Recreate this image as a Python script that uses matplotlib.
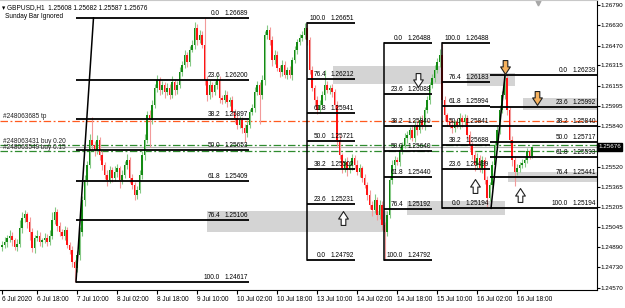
import numpy as np
import matplotlib
matplotlib.use("Agg")
import matplotlib.pyplot as plt
from matplotlib.path import Path
from matplotlib.patches import Rectangle

plt.rcParams['font.family'] = ['Liberation Sans', 'DejaVu Sans']
plt.rcParams['font.size'] = 4.7

# GBPUSD H1, bar index 0 = 6 Jul 2020 00:00 (Sunday bar ignored, 24 bars a day)
first_bar = 4
first_open = 1.24890
closes = [
    1.24906, 1.24929, 1.24961, 1.24976, 1.24945, 1.24890, 1.24914, 1.25039, 1.25118, 1.25149,
    1.25086, 1.25008, 1.24882, 1.24961, 1.24976, 1.24929, 1.24945, 1.24961, 1.24929, 1.24976,
    1.25102, 1.25165, 1.25055, 1.25008, 1.24976, 1.25024, 1.24906, 1.24867, 1.24772, 1.24725,
    1.24828, 1.25008, 1.25259, 1.25416, 1.25534, 1.25730, 1.25691, 1.25652, 1.25730, 1.25612,
    1.25534, 1.25455, 1.25416, 1.25495, 1.25432, 1.25479, 1.25510, 1.25416, 1.25455, 1.25534,
    1.25573, 1.25432, 1.25377, 1.25298, 1.25337, 1.25455, 1.25612, 1.25730, 1.25926, 1.25887,
    1.26005, 1.26138, 1.26201, 1.26122, 1.26162, 1.26107, 1.26138, 1.26083, 1.26185, 1.26122,
    1.26162, 1.26264, 1.26319, 1.26397, 1.26342, 1.26437, 1.26476, 1.26609, 1.26515, 1.26554,
    1.26476, 1.26201, 1.26083, 1.26162, 1.26107, 1.26162, 1.26201, 1.26060, 1.26044, 1.26083,
    1.26028, 1.26044, 1.25950, 1.25903, 1.25848, 1.25887, 1.25824, 1.25785, 1.25848, 1.25950,
    1.25981, 1.26107, 1.26162, 1.26083, 1.26201, 1.26554, 1.26594, 1.26515, 1.26358, 1.26397,
    1.26295, 1.26264, 1.26319, 1.26240, 1.26280, 1.26240, 1.26358, 1.26437, 1.26499, 1.26531,
    1.26554, 1.26609, 1.26515, 1.26280, 1.26138, 1.26044, 1.25966, 1.26005, 1.26083, 1.26162,
    1.26122, 1.26138, 1.26107, 1.26005, 1.25730, 1.25612, 1.25510, 1.25557, 1.25495, 1.25534,
    1.25589, 1.25534, 1.25479, 1.25510, 1.25432, 1.25377, 1.25298, 1.25220, 1.25181, 1.25259,
    1.25141, 1.25220, 1.25063, 1.25008, 1.25141, 1.25416, 1.25534, 1.25573, 1.25557, 1.25652,
    1.25691, 1.25746, 1.25769, 1.25809, 1.25746, 1.25848, 1.25809, 1.25887, 1.25848, 1.25966,
    1.26044, 1.26162, 1.26217, 1.26280, 1.26342, 1.26397, 1.26044, 1.25926, 1.25871, 1.25848,
    1.25824, 1.25871, 1.25848, 1.25903, 1.25871, 1.25903, 1.25769, 1.25691, 1.25612, 1.25534,
    1.25589, 1.25510, 1.25573, 1.25416, 1.25275, 1.25377, 1.25534, 1.25691, 1.25809, 1.25966,
    1.26083, 1.26217, 1.25966, 1.25730, 1.25573, 1.25479, 1.25510, 1.25534, 1.25550, 1.25573,
    1.25640, 1.25608, 1.25676,
]
# wick lengths in pips above / below the body
upper_wick = [
    3, 4, 2, 5, 3, 2, 4, 6, 5, 3,
    2, 4, 3, 2, 5, 3, 2, 4, 3, 5,
    6, 4, 2, 3, 2, 3, 2, 2, 3, 2,
    3, 4, 3, 4, 3, 5, 18, 3, 4, 2,
    3, 2, 4, 3, 2, 5, 3, 2, 4, 3,
    5, 2, 3, 2, 3, 4, 3, 5, 3, 4,
    4, 3, 4, 2, 3, 2, 4, 3, 5, 2,
    3, 4, 3, 4, 2, 3, 4, 5, 3, 4,
    3, 21, 3, 4, 2, 3, 4, 3, 2, 4,
    3, 2, 3, 2, 4, 3, 2, 3, 4, 2,
    3, 4, 3, 2, 4, 3, 4, 2, 3, 4,
    3, 2, 4, 3, 2, 3, 2, 3, 2, 3,
    3, 4, 4, 2, 3, 2, 3, 4, 3, 12,
    3, 2, 3, 2, 3, 4, 2, 3, 4, 3,
    3, 2, 4, 3, 2, 3, 2, 4, 3, 5,
    2, 4, 3, 2, 3, 2, 4, 3, 2, 3,
    2, 4, 3, 2, 3, 4, 2, 3, 4, 2,
    3, 2, 3, 4, 3, 5, 9, 3, 2, 3,
    3, 2, 3, 4, 2, 3, 2, 3, 2, 3,
    4, 2, 3, 2, 3, 2, 3, 2, 3, 4,
    3, 2, 3, 2, 3, 2, 3, 2, 3, 2,
    3, 2, 0.6,
]
lower_wick = [
    3, 2, 4, 3, 5, 2, 3, 2, 4, 3,
    5, 6, 3, 4, 2, 3, 4, 2, 3, 2,
    2, 3, 4, 3, 2, 3, 2, 3, 4, 11,
    3, 4, 3, 5, 4, 2, 3, 5, 3, 4,
    4, 3, 5, 2, 3, 2, 4, 6, 3, 2,
    3, 4, 3, 4, 3, 2, 3, 4, 2, 21,
    3, 2, 3, 4, 3, 5, 2, 3, 2, 4,
    3, 2, 3, 2, 4, 3, 2, 3, 4, 2,
    2, 4, 5, 3, 4, 2, 3, 4, 3, 2,
    4, 3, 2, 4, 3, 2, 4, 7, 3, 2,
    2, 3, 2, 23, 3, 4, 3, 4, 5, 3,
    2, 4, 3, 2, 3, 2, 4, 2, 3, 2,
    2, 3, 4, 3, 2, 4, 3, 2, 3, 4,
    2, 3, 4, 3, 5, 3, 4, 3, 5, 2,
    4, 3, 2, 4, 3, 2, 4, 3, 5, 2,
    4, 3, 4, 22, 3, 2, 3, 4, 2, 3,
    3, 2, 4, 3, 2, 3, 4, 2, 3, 4,
    2, 3, 2, 3, 2, 4, 3, 5, 3, 2,
    4, 3, 2, 3, 4, 2, 3, 4, 3, 5,
    2, 3, 4, 3, 8, 2, 3, 2, 4, 3,
    2, 3, 4, 3, 5, 11, 2, 3, 2, 3,
    2, 3, 2.1,
]

date_ticks = [4, 18, 34, 50, 66, 82, 98, 114, 130, 146, 162, 178, 194, 210]
date_labels = ["6 Jul 2020", "6 Jul 18:00", "7 Jul 10:00", "8 Jul 02:00", "8 Jul 18:00",
               "9 Jul 10:00", "10 Jul 02:00", "10 Jul 18:00", "13 Jul 10:00", "14 Jul 02:00",
               "14 Jul 18:00", "15 Jul 10:00", "16 Jul 02:00", "16 Jul 18:00"]
price_ticks = [1.26790, 1.26630, 1.26470, 1.26315, 1.26155, 1.25995, 1.25840,
               1.25520, 1.25365, 1.25205, 1.25045, 1.24890, 1.24730, 1.24570]

# fibonacci retracements: price at level 0.0 and at level 100.0
fib_levels = [0.0, 23.6, 38.2, 50.0, 61.8, 76.4, 100.0]
fib_prices = [(1.26689, 1.24617), (1.24792, 1.26651), (1.26488, 1.24792),
              (1.25194, 1.26488), (1.26239, 1.25194)]
fib_spans = [(33.6, 102.8), (126.0, 145.2), (156.8, 176.0), (180.0, 199.2), (199.2, 242.0)]
fib_anchor_bars = [(33.6, 40.6), (126.0, 126.0), (156.8, 156.8), (180.0, 180.0), (199.6, 205.2)]

# order lines
order_prices = [1.25880, 1.25688, 1.25641]
order_labels = ["#248063685 tp", "#248063431 buy 0.20", "#248063549 buy 0.15"]
order_colors = ['#ff5a1f', '#2e8b2e', '#2e8b2e']

# grey zones: start bar, end bar, low, high
zones = [(86.0, 158.4, 1.25008, 1.25173), (136.4, 180.4, 1.26170, 1.26311),
         (190.0, 209.2, 1.26154, 1.26256), (212.4, 242.0, 1.25966, 1.26060),
         (166.0, 205.2, 1.25141, 1.25251), (206.4, 242.0, 1.25400, 1.25479)]

# signal arrows: bar, price, direction, fill
arrows = [(140.4, 1.25118, 'up', 'white'), (193.2, 1.25369, 'up', 'white'),
          (211.2, 1.25298, 'up', 'white'), (170.4, 1.26201, 'down', 'white'),
          (205.2, 1.26303, 'down', '#f6b25e'), (218.0, 1.26060, 'down', '#f6b25e')]

# ---------------------------------------------------------------
c = np.array(closes)
o = np.concatenate([[first_open], c[:-1]])
x = np.arange(first_bar, first_bar + len(c))
top = np.maximum(o, c)
bot = np.minimum(o, c)
hi = top + np.array(upper_wick) * 1e-4
lo = bot - np.array(lower_wick) * 1e-4
bull = c >= o

fig = plt.figure(figsize=(6.25, 3.08), dpi=100)
ax = fig.add_axes([0, 18 / 308, 597 / 625, 290 / 308])
ax.set_xlim(3.2, 242)
ax.set_ylim(1.24553, 1.26829)

for t0, t1, p_lo, p_hi in zones:
    ax.add_patch(Rectangle((t0, p_lo), t1 - t0, p_hi - p_lo, color='#d4d4d4', lw=0, zorder=1))

ax.axhline(c[-1], color='#b4b4b4', lw=0.8, zorder=1.5)
for p, lab, col in zip(order_prices, order_labels, order_colors):
    ax.axhline(p, color=col, lw=0.9, ls=(0, (6, 2, 1.5, 2)), zorder=2)
    ax.annotate(lab, (0.005, p), xycoords=('axes fraction', 'data'), xytext=(0, 0.5),
                textcoords='offset pixels', va='bottom', ha='left', color='#202020')

ax.vlines(x, lo, hi, colors=np.where(bull, '#86c986', '#f29a9a'), lw=0.8, zorder=3)
body = np.maximum(top - bot, 0.00004)
ax.bar(x, body, bottom=bot, width=0.65, color=np.where(bull, '#138a13', '#ff1414'),
       lw=0, zorder=4)

for (p0, p100), (t0, t1), (ta, tb) in zip(fib_prices, fib_spans, fib_anchor_bars):
    ax.plot([ta, tb], [p100, p0], color='black', lw=1.1, zorder=5)
    for lv in fib_levels:
        p = p0 + (p100 - p0) * lv / 100
        ax.hlines(p, t0, t1, color='black', lw=1.3, zorder=5)
        ax.annotate(f"{p:.5f}", (t1, p), xytext=(-1, 1), textcoords='offset pixels',
                    ha='right', va='bottom', zorder=6)
        ax.annotate(f"{lv:.1f}", (t1, p), xytext=(-29, 1), textcoords='offset pixels',
                    ha='right', va='bottom', zorder=6)

down_path = Path([(-0.2, 0.6), (0.2, 0.6), (0.2, 0.05), (0.42, 0.05), (0, -0.6),
                  (-0.42, 0.05), (-0.2, 0.05), (-0.2, 0.6)], closed=True)
up_path = Path(down_path.vertices * [1, -1], closed=True)
for t, p, d, fill in arrows:
    ax.plot([t], [p], marker=up_path if d == 'up' else down_path, ms=10,
            mfc=fill, mec='#202020', mew=0.8, zorder=7)

# chart shift marker
ax.plot([218.4], [0.988], marker='v', ms=3.5, color='#a8a8a8',
        transform=ax.get_xaxis_transform(), clip_on=False)

ax.yaxis.tick_right()
ax.set_yticks(price_ticks)
ax.set_yticklabels([f"{p:.5f}" for p in price_ticks])
ax.set_xticks(date_ticks)
ax.set_xticklabels(date_labels, ha='left')
ax.tick_params(axis='x', length=3, width=0.8, pad=1.5, labelsize=4.7)
ax.tick_params(axis='y', length=2, width=0.8, pad=0.8, labelsize=4.5)
ax.spines['left'].set_visible(False)
ax.spines['top'].set_color('#c8c8c8')

ax.text(1.002, c[-1], f"{c[-1]:.5f}", transform=ax.get_yaxis_transform(), color='white',
        va='center', ha='left', fontsize=4.5,
        bbox=dict(boxstyle='square,pad=0.2', fc='black', ec='black'))

ax.text(0.004, 0.985, f"\u25be GBPUSD,H1  {o[-1]:.5f} {hi[-1]:.5f} {lo[-1]:.5f} {c[-1]:.5f}",
        transform=ax.transAxes, va='top', ha='left')
ax.text(0.008, 0.955, "Sunday Bar Ignored", transform=ax.transAxes, va='top', ha='left')

fig.savefig("out.png", dpi=100)
